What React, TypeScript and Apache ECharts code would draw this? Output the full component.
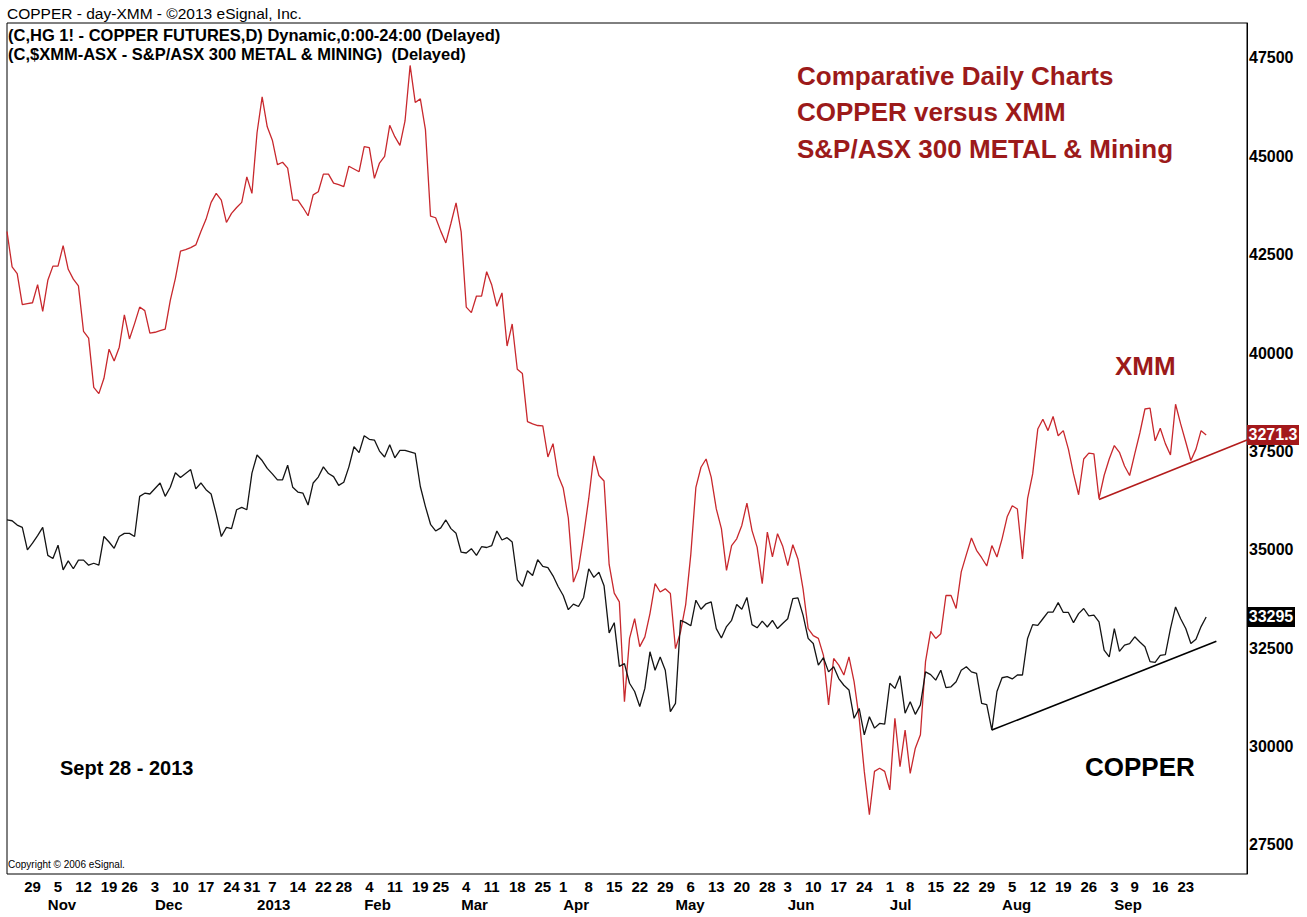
import React, { useEffect, useRef } from 'react';
import * as echarts from 'echarts';

// ---------- calendar (COMEX trading days) ----------
const FIRST_DAY = '2012-10-22';
const LAST_AXIS_DAY = '2013-10-09';
const HOLIDAYS = [
  '2012-11-22', '2012-12-25', '2013-01-01', '2013-01-21', '2013-02-18',
  '2013-03-29', '2013-05-27', '2013-07-04', '2013-09-02',
];
const MONTH_LABELS = ['2013', 'Feb', 'Mar', 'Apr', 'May', 'Jun', 'Jul', 'Aug', 'Sep', 'Oct', 'Nov', 'Dec'];

// ---------- series (in the chart's right-axis units) ----------
const XMM = [
  43090, 42190, 42020, 41230, 41260, 41280, 41740, 41060, 41850, 42210,
  42210, 42730, 42130, 41880, 41710, 40550, 40380, 39130, 38970, 39360,
  40100, 39800, 40150, 40970, 40360, 40750, 41170, 41080, 40510, 40530,
  40570, 40610, 41340, 41900, 42590, 42630,
  42680, 42750, 43090, 43400, 43830, 44060, 43890, 43320, 43550, 43700,
  43830, 44480, 44060, 45600, 46510, 45750, 45410, 44790, 44850, 44700,
  43890, 43890, 43700, 43490, 44020, 44100, 44550, 44550, 44320, 44280,
  44230, 44750, 44680, 44610, 45250, 45220, 44440, 44830, 45000, 45790,
  45500, 45280, 45900, 47310, 46370, 46460, 45680, 43480, 43440, 43100,
  42800, 43300, 43820, 43080, 41170, 41030, 41450, 41450, 42070, 41730,
  41190, 41530, 40180, 40740, 39590, 39480, 38260, 38200, 38160, 38150,
  37360, 37700, 36890, 36570, 35810, 34180, 34520, 35370, 36300, 37390,
  36890, 36750, 34630, 33900, 33680, 31140, 32750, 33250, 32540, 32790,
  33380, 34140, 33930, 34010, 33890, 32490, 32920, 33610, 34880, 36590,
  37100, 37310, 36850, 36040, 35540, 34480, 35110, 35280, 35620, 36190,
  35490, 35070, 34140, 35450, 34820, 35410, 35100,
  34600, 35130, 34770, 34010, 33000, 32820, 32750, 32320, 31060, 32240,
  32070, 31820, 32280, 31650, 30720, 29370, 28270, 29370, 29450, 29370,
  28900, 30720, 29490, 30420, 29320, 29960, 30300, 32160, 32930, 32750,
  32870, 33840, 33840, 33510, 34440, 34880, 35300, 34990, 34800, 34590,
  35110, 34820, 35280, 35840, 36120, 36040, 34770, 36300, 36930, 38070,
  38320, 38030, 38390, 37900, 38030, 37560, 36930, 36400, 37310, 37460,
  37440, 36300, 36890, 37310, 37650, 37480, 37130, 36890, 37440, 37970,
  38580, 38600, 37770, 38090, 37700, 37410, 38700, 38200, 37740, 37270,
  37560, 38030, 37920,
];

const COPPER = [
  35760, 35740, 35630, 35570, 35000, 35170, 35360, 35570, 34860, 34780,
  35120, 34490, 34720, 34520, 34740, 34740, 34610, 34660, 34610, 35340,
  35200, 35040, 35340, 35420, 35420, 35340, 36360, 36440, 36420, 36560,
  36700, 36360, 36590, 36960, 36840, 36940,
  37040, 36550, 36700, 36530, 36420, 35910, 35340, 35570, 35540, 36020,
  36080, 36020, 36950, 37410, 37270, 37070, 36930, 36780, 36780, 37150,
  36590, 36470, 36440, 36140, 36700, 36850, 37110, 36940, 36860, 36640,
  36720, 37110, 37620, 37470, 37900, 37810, 37790, 37510, 37360, 37670,
  37340, 37530, 37530, 37490, 37450, 36610, 36100, 35650, 35480, 35560,
  35760, 35540, 35420, 34940, 34920, 35030, 34860, 35080, 35060, 35110,
  35480, 35250, 35310, 35200, 34240, 34070, 34470, 34350, 34750, 34580,
  34550, 34340, 34070, 33840, 33480, 33620, 33560, 33790, 34520, 34300,
  34430, 34090, 32890, 33150, 32040, 32110, 31610, 31400, 31020, 31480,
  32410, 31940, 32280, 31940, 30890, 31100, 33210, 33150, 33070, 33720,
  33490, 33630, 33680, 33000, 32760, 33050, 33210, 33610, 33490, 33790,
  33100, 33020, 33190, 33040, 33210, 33000, 33130,
  33250, 33760, 33780, 33340, 32750, 32620, 32070, 32260, 31900, 32030,
  31730, 31560, 31440, 30720, 30970, 30300, 30760, 30470, 30590, 30570,
  31610, 31480, 31800, 30850, 31140, 30820, 31060, 31900, 31830, 31690,
  31940, 31500, 31520, 31650, 31940, 32030, 31900, 31860, 31100, 31070,
  30420, 31400, 31750, 31780, 31720, 31820, 31820, 32750, 33100, 33080,
  33250, 33420, 33420, 33660, 33410, 33410, 33150, 33380, 33510, 33320,
  33340, 33170, 32450, 32280, 33000, 32420, 32580, 32620, 32790, 32660,
  32540, 32160, 32140, 32320, 32340, 33000, 33550, 33250, 33000, 32620,
  32730, 33050, 33295,
];

const XMM_LAST_LABEL = '3271.3';
const COPPER_LAST_LABEL = '33295';

const XMM_TREND: [string, number][] = [['2013-08-28', 36280], ['2013-10-09', 37793]];
const COPPER_TREND: [string, number][] = [['2013-07-30', 30420], ['2013-10-01', 32676]];

const Y_TICKS = [27500, 30000, 32500, 35000, 37500, 40000, 42500, 45000, 47500];
const Y_MIN = 26763;
const Y_MAX = 48389;

// ---------- helpers ----------
function buildTradingDays(): string[] {
  const out: string[] = [];
  const d = new Date(FIRST_DAY + 'T00:00:00Z');
  const end = new Date(LAST_AXIS_DAY + 'T00:00:00Z');
  while (d.getTime() <= end.getTime()) {
    const wd = d.getUTCDay();
    const s = d.toISOString().slice(0, 10);
    if (wd !== 0 && wd !== 6 && HOLIDAYS.indexOf(s) < 0) out.push(s);
    d.setUTCDate(d.getUTCDate() + 1);
  }
  return out;
}

const FONT = '"Liberation Sans", Arial, Helvetica, sans-serif';
const DARK_RED = '#9c1a1a';

export default function App() {
  const ref = useRef<HTMLDivElement>(null);

  useEffect(() => {
    if (!ref.current) return;
    const chart = echarts.init(ref.current, undefined, { renderer: 'svg' });
    const days = buildTradingDays();
    const lastData = COPPER.length - 1;
    const dow = (s: string) => new Date(s + 'T00:00:00Z').getUTCDay();
    const mon = (s: string) => new Date(s + 'T00:00:00Z').getUTCMonth();
    const isWeekStart = (i: number) => i > 0 && i <= lastData && dow(days[i]) < dow(days[i - 1]);
    const isMonthStart = (i: number) => i > 0 && i <= lastData && mon(days[i]) !== mon(days[i - 1]);
    const lastAxisDay = days[days.length - 1];

    const labelStyle = { fontFamily: FONT, fontWeight: 'bold' as const, fontSize: 15, color: '#000' };

    const txt = (text: string, x: number, y: number, size: number, color: string, weight = 'normal') => ({
      type: 'text',
      x,
      y,
      silent: true,
      style: {
        text,
        fill: color,
        fontFamily: FONT,
        fontSize: size,
        fontWeight: weight,
        align: 'left',
        verticalAlign: 'middle',
      },
    });

    chart.setOption({
      animation: false,
      backgroundColor: '#fff',
      grid: {
        left: 7,
        right: 60,
        top: 23,
        bottom: 43,
        show: true,
        borderColor: '#000',
        borderWidth: 1,
        backgroundColor: 'transparent',
      },
      xAxis: [
        {
          type: 'category',
          data: days,
          boundaryGap: false,
          axisLine: { show: false },
          axisTick: { show: false },
          splitLine: { show: false },
          axisLabel: {
            ...labelStyle,
            interval: (i: number) => isWeekStart(i),
            formatter: (v: string) => String(Number(v.slice(8, 10))),
            margin: 5,
            align: 'center',
          },
        },
        {
          type: 'category',
          data: days,
          boundaryGap: false,
          position: 'bottom',
          offset: 18,
          axisLine: { show: false },
          axisTick: { show: false },
          splitLine: { show: false },
          axisLabel: {
            ...labelStyle,
            interval: (i: number) => isMonthStart(i),
            formatter: (v: string) => MONTH_LABELS[mon(v)],
            margin: 5,
            align: 'left',
          },
        },
      ],
      yAxis: {
        type: 'value',
        position: 'right',
        min: Y_MIN,
        max: Y_MAX,
        axisLine: { show: true, lineStyle: { color: '#000', width: 1 } },
        axisTick: { show: false },
        splitLine: { show: false },
        axisLabel: {
          customValues: Y_TICKS,
          formatter: (v: number) => String(Math.round(v)),
          fontFamily: FONT,
          fontWeight: 'bold',
          fontSize: 16,
          color: '#000',
          margin: 2,
          align: 'left',
        },
      },
      series: [
        {
          name: 'XMM',
          type: 'line',
          xAxisIndex: 0,
          data: XMM,
          symbol: 'none',
          lineStyle: { color: '#c8282d', width: 1.3 },
          markLine: {
            silent: true,
            symbol: ['none', 'none'],
            label: { show: false },
            lineStyle: { color: '#b31c1c', width: 1.6, type: 'solid' },
            data: [[{ coord: XMM_TREND[0] }, { coord: XMM_TREND[1] }]],
          },
          markPoint: {
            silent: true,
            symbol: 'rect',
            symbolSize: [52, 20],
            symbolOffset: [26, 0],
            itemStyle: { color: '#a3181b' },
            label: {
              show: true,
              formatter: XMM_LAST_LABEL,
              color: '#fff',
              fontFamily: FONT,
              fontWeight: 'bold',
              fontSize: 16,
            },
            data: [{ coord: [lastAxisDay, XMM[lastData]] }],
          },
        },
        {
          name: 'COPPER',
          type: 'line',
          xAxisIndex: 0,
          data: COPPER,
          symbol: 'none',
          lineStyle: { color: '#141414', width: 1.3 },
          markLine: {
            silent: true,
            symbol: ['none', 'none'],
            label: { show: false },
            lineStyle: { color: '#000', width: 1.6, type: 'solid' },
            data: [[{ coord: COPPER_TREND[0] }, { coord: COPPER_TREND[1] }]],
          },
          markPoint: {
            silent: true,
            symbol: 'rect',
            symbolSize: [48, 20],
            symbolOffset: [24, 0],
            itemStyle: { color: '#000' },
            label: {
              show: true,
              formatter: COPPER_LAST_LABEL,
              color: '#fff',
              fontFamily: FONT,
              fontWeight: 'bold',
              fontSize: 16,
            },
            data: [{ coord: [lastAxisDay, COPPER[lastData]] }],
          },
        },
      ],
      graphic: [
        txt('COPPER - day-XMM - \u00a92013 eSignal, Inc.', 7, 13, 15.5, '#000'),
        txt('(C,HG 1! - COPPER FUTURES,D) Dynamic,0:00-24:00 (Delayed)', 8, 35, 16.5, '#000', 'bold'),
        txt('(C,$XMM-ASX - S&P/ASX 300 METAL & MINING) \u00a0(Delayed)', 8, 54, 16.5, '#000', 'bold'),
        txt('Comparative Daily Charts', 797, 76, 26, DARK_RED, 'bold'),
        txt('COPPER versus XMM', 797, 112, 26, DARK_RED, 'bold'),
        txt('S&P/ASX 300 METAL & Mining', 797, 149, 26, DARK_RED, 'bold'),
        txt('XMM', 1115, 366, 26, DARK_RED, 'bold'),
        txt('COPPER', 1085, 767, 26, '#000', 'bold'),
        txt('Sept 28 - 2013', 60, 768, 20, '#000', 'bold'),
        txt('Copyright \u00a9 2006 eSignal.', 8, 864, 10, '#000'),
      ],
    });

    return () => chart.dispose();
  }, []);

  return (
    <div
      ref={ref}
      style={{ position: 'fixed', left: 0, top: 0, width: 1307, height: 917, background: '#fff' }}
    />
  );
}
